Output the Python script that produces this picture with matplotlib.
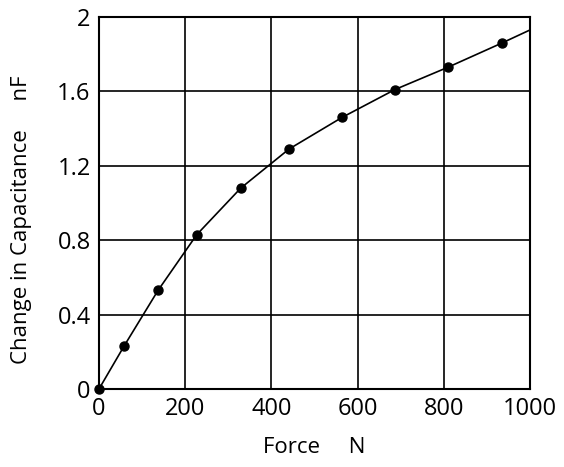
import matplotlib
matplotlib.use("Agg")
import matplotlib.pyplot as plt

# measured points (force in N, capacitance change in nF)
force = [0, 58, 137, 227, 329, 441, 564, 687, 810, 935]
cap = [0.0, 0.23, 0.53, 0.83, 1.08, 1.29, 1.46, 1.61, 1.73, 1.86]

# fitted curve
curve_force = [0, 58, 137, 227, 329, 441, 564, 687, 810, 935, 1000]
curve_cap = [0.0, 0.23, 0.53, 0.83, 1.08, 1.29, 1.46, 1.61, 1.73, 1.86, 1.93]

x_ticks = [0, 200, 400, 600, 800, 1000]
y_ticks = [0, 0.4, 0.8, 1.2, 1.6, 2]
y_tick_labels = ["0", "0.4", "0.8", "1.2", "1.6", "2"]

plt.rcParams['font.family'] = ['Open Sans', 'DejaVu Sans']

fig = plt.figure(figsize=(5.64, 4.67), dpi=100)
ax = fig.add_axes([0.1755, 0.167, 0.764, 0.7966])

ax.plot(curve_force, curve_cap, color='black', lw=1.2, zorder=3)
ax.plot(force, cap, 'o', color='black', ms=6.5, zorder=4, clip_on=False)

ax.set_xlim(0, 1000)
ax.set_ylim(0, 2)
ax.set_xticks(x_ticks)
ax.set_yticks(y_ticks)
ax.set_yticklabels(y_tick_labels)
ax.tick_params(length=0, labelsize=17, pad=6, colors='black')
ax.grid(True, color='black', lw=1.2)
ax.set_axisbelow(True)
for s in ax.spines.values():
    s.set_linewidth(1.5)
    s.set_color('black')

ax.set_xlabel("Force     N", fontsize=16, labelpad=11)
ax.set_ylabel("Change in Capacitance     nF", fontsize=16)
ax.yaxis.set_label_coords(-0.155, 0.455)

fig.savefig("out.png", dpi=100)
